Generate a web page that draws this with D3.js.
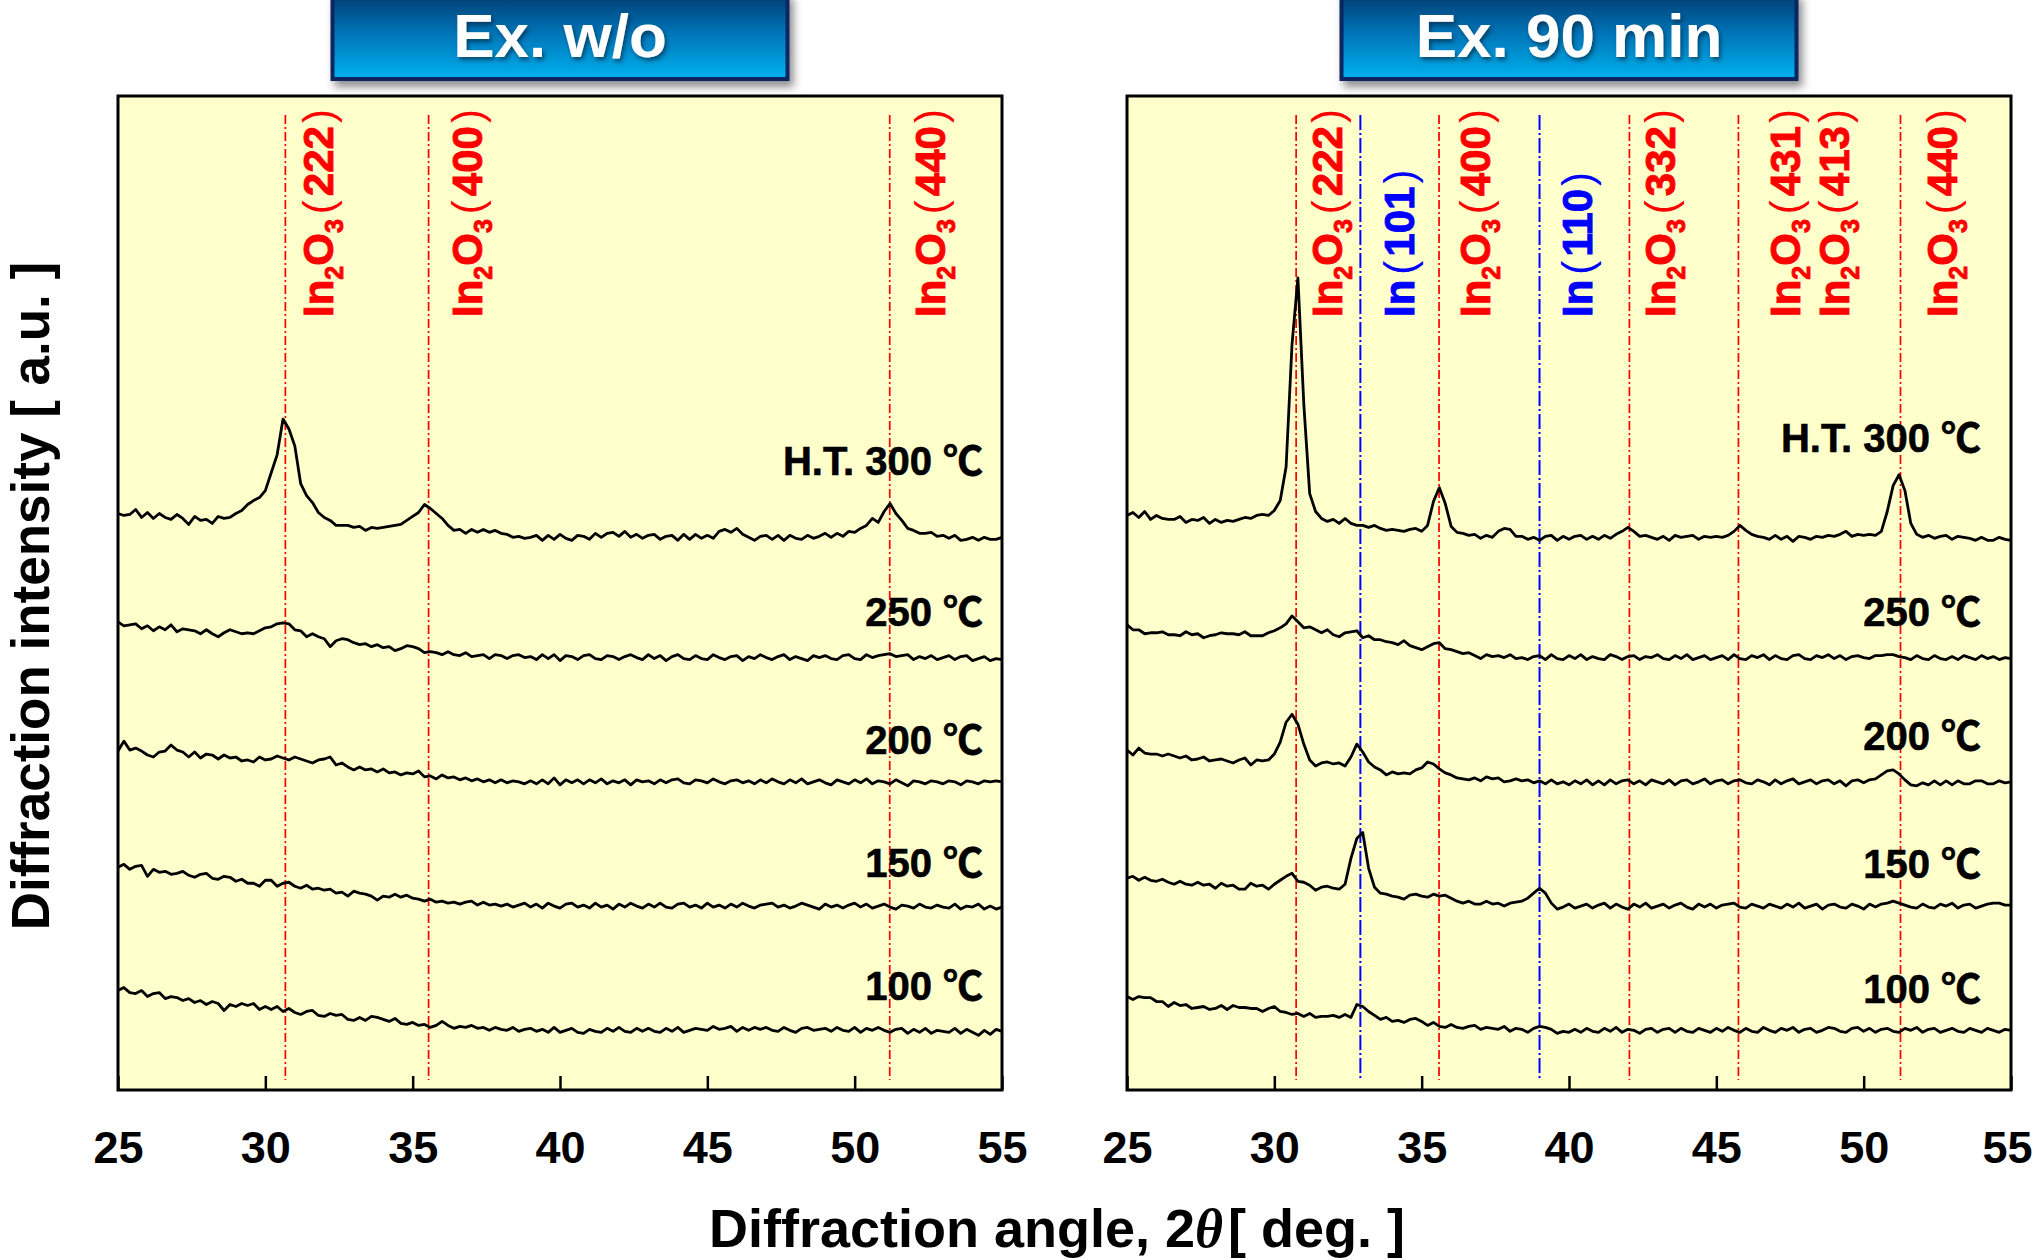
<!DOCTYPE html>
<html>
<head>
<meta charset="utf-8">
<script src="https://cdnjs.cloudflare.com/ajax/libs/d3/7.8.5/d3.min.js"></script>
<style>
  html, body { margin: 0; padding: 0; background: #ffffff; }
  svg { display: block; }
  text { font-family: "Liberation Sans", Arial, "Noto Sans CJK JP", sans-serif; font-weight: bold; }
</style>
</head>
<body>
<svg id="chart" width="2035" height="1260"></svg>
<script>
// ---------------------------------------------------------------------------
// XRD scans of the films after heat treatment (2θ = 25–55°, 0.2° step)
// ---------------------------------------------------------------------------
const angles = d3.range(151).map(i => +(25 + i * 0.2).toFixed(1));
const tickValues = [25, 30, 35, 40, 45, 50, 55];

// heat-treatment temperatures, bottom to top
const tempLabels = ["100 ℃", "150 ℃", "200 ℃", "250 ℃", "H.T. 300 ℃"];
// vertical stacking offset of each scan [a.u.]
const stackOffsets = [60, 185, 310, 435, 555];

// ---- Ex. w/o : intensity above stacking offset [a.u.] ----
const woScan100 = [
  40,43,38,37,40,34,37,38,32,34, 33,30,32,28,30,26,29,27,20,26,
  24,27,25,27,21,24,21,24,19,22, 18,16,19,20,15,14,17,15,16,11,
  10,13,10,14,13,11,9,12,7,6,    8,5,6,3,5,9,5,2,4,3,
  5,2,3,0,3,1,0,3,-1,1,          2,-1,1,-2,3,-2,0,2,-2,-3,
  1,-1,-2,2,-1,3,-1,-2,2,-1,     2,-1,-2,2,-1,3,-2,0,2,1,
  0,4,1,2,4,-1,3,0,3,1,          3,0,-1,3,0,-2,2,3,0,1,
  2,-1,3,0,-1,3,-2,2,0,3,        0,-2,1,2,-3,1,-2,2,-3,0,
  -1,-2,2,-3,1,-2,-5,0,-4,1,     -1
];
const woScan150 = [
  39,42,37,40,41,30,37,34,35,32, 33,35,31,29,32,33,28,27,30,29,
  25,27,23,23,20,26,26,20,23,24, 20,18,21,17,18,16,17,13,14,10,
  15,13,12,10,6,10,9,12,9,11,    8,7,5,7,4,5,3,4,2,4,
  5,1,4,1,2,0,2,-1,1,3,          -1,2,-2,3,0,-2,2,3,-1,1,
  -2,3,-1,1,-3,2,-1,3,0,-2,      2,-1,3,-1,-2,2,3,-1,1,-2,
  3,-1,1,-2,2,-1,3,0,-2,1,       2,3,-1,1,-2,0,3,1,-1,-3,
  2,-1,1,-2,1,3,-1,2,-2,0,       2,-1,-3,1,0,-2,2,-1,-2,1,
  -1,-2,2,-3,0,-1,2,-3,0,-3,     -1
];
const woScan200 = [
  31,41,32,34,31,27,25,30,31,37, 32,30,25,30,24,28,27,23,27,24,
  25,21,22,20,25,22,23,26,24,22, 25,23,21,19,22,23,25,17,19,15,
  12,15,12,13,10,13,9,10,7,9,    8,11,5,6,3,7,4,5,2,4,
  1,3,0,2,-1,2,-1,1,0,-2,        1,-2,2,-2,4,-3,2,-1,2,-2,
  2,-1,3,-2,1,-1,2,-3,2,0,       1,-2,2,-1,2,3,-1,-2,2,1,
  -1,3,0,-2,1,2,-1,1,-2,2,       -1,3,0,-2,2,-1,3,-2,0,2,
  -1,-3,2,0,-2,2,-1,3,-2,1,      0,-2,2,-1,-4,1,0,-2,1,0,
  -2,1,0,-3,1,0,-2,1,0,1,        0
];
const woScan250 = [
  36,32,33,34,29,32,27,31,28,33, 26,29,28,27,24,28,24,21,25,28,
  26,24,25,24,27,30,31,34,35,34, 28,27,21,24,21,19,11,17,19,18,
  15,13,14,11,13,10,11,7,9,12,   11,9,5,6,5,3,6,3,2,5,
  1,2,3,-1,3,2,-1,2,3,0,         1,-2,3,-1,3,-3,2,1,-2,2,
  3,-1,-2,2,1,-2,1,3,0,-2,       3,-1,2,-3,1,3,-1,-2,2,-1,
  -2,3,0,-2,1,2,-3,1,-1,3,       0,-2,1,3,-2,1,-1,-3,2,0,
  2,-1,-2,2,3,-1,-2,3,0,2,       3,4,1,2,3,-2,1,-1,2,-2,
  0,2,-2,1,2,-3,-1,1,-3,-1,      -2
];
const woScan300 = [
  25,23,24,29,21,26,20,25,21,19, 24,20,14,22,18,19,15,22,20,21,
  25,28,34,38,41,48,66,84,120,110, 93,55,43,36,26,21,18,13,13,13,
  11,12,8,11,10,11,12,13,14,18,  22,26,34,30,25,20,13,8,9,5,
  9,6,9,6,8,5,4,1,2,0,           1,3,-2,3,-1,4,0,-2,3,2,
  -1,5,1,5,6,2,7,1,4,0,          3,4,-1,2,3,-2,4,-1,4,0,
  3,0,7,9,6,10,4,1,-2,2,         3,-1,3,-2,3,0,-1,3,0,2,
  5,1,5,2,7,6,10,13,20,16,       27,35,25,18,10,8,5,5,6,2,
  3,0,3,-2,-1,1,-2,1,-1,-1,      1
];

// ---- Ex. 90 min : intensity above stacking offset [a.u.] ----
const exScan100 = [
  34,31,34,33,33,29,29,24,28,25, 26,22,23,24,21,22,25,21,25,23,
  23,22,22,19,22,24,19,18,16,17, 14,17,13,14,14,15,13,16,13,26,
  24,19,15,11,13,9,10,8,11,12,   9,5,8,4,3,6,3,2,4,5,
  1,3,2,1,4,-1,2,1,-2,2,         4,3,1,-3,-1,-2,1,-2,2,-1,
  -2,2,-1,3,-2,1,0,-3,1,2,       -2,1,2,-2,2,-1,-2,2,0,-2,
  2,-1,3,0,-2,2,-1,-2,3,0,       -2,2,0,3,-2,1,2,-2,0,3,
  2,-1,-2,2,3,-1,2,-2,1,2,       -1,-2,2,0,3,-2,1,2,-2,0,
  2,-1,-2,2,0,-2,2,0,-2,1,       0
];
const exScan150 = [
  28,30,26,29,26,25,27,24,22,25, 22,21,24,21,22,18,23,20,21,17,
  17,23,20,21,17,22,26,30,33,25, 24,21,16,19,20,18,17,22,48,68,
  74,38,19,13,12,10,9,7,11,12,   10,9,12,10,11,8,5,3,5,2,
  2,5,2,3,0,3,4,5,8,13,          18,13,3,-3,-1,2,-2,0,2,-2,
  1,3,-2,2,-1,-3,2,-1,3,-2,      0,2,-2,1,3,-1,-3,2,-1,2,
  -2,1,2,3,-1,-2,2,0,-2,2,       0,-2,2,-1,3,-2,0,2,-3,1,
  2,-1,-2,2,0,-3,2,-1,2,3,       5,3,1,-1,-2,2,-1,-2,2,0,
  3,-2,1,2,-2,0,2,3,3,1,         1
];
const exScan200 = [
  32,27,34,29,28,28,26,28,26,24, 26,22,23,25,21,22,23,21,19,22,
  24,17,22,21,22,28,40,60,68,58, 38,22,16,19,20,18,19,16,25,38,
  30,20,15,12,7,10,8,9,8,12,     14,20,18,13,9,7,4,3,2,4,
  1,5,3,4,0,1,3,1,2,-1,          1,-2,2,-2,0,-3,1,-2,2,-3,
  1,-3,2,-2,1,2,-2,1,-3,2,       0,-2,2,-3,1,2,-2,0,3,-2,
  1,2,-2,1,2,-1,-2,2,0,-3,       2,-2,1,3,-2,0,2,-2,1,2,
  -2,1,-4,1,2,-1,2,3,7,11,       12,8,2,-3,-4,-1,-3,1,-3,1,
  -3,1,-2,-2,1,1,-2,-2,1,-1,     0
];
const exScan250 = [
  33,28,28,24,25,25,26,23,23,22, 26,23,24,20,22,23,25,24,24,23,
  26,22,22,22,25,27,30,34,42,36, 30,31,28,25,28,23,21,25,26,27,
  20,22,18,18,16,15,13,17,12,10, 8,11,14,15,9,8,6,4,5,2,
  -1,3,1,2,0,3,-1,0,-2,1,        2,-2,3,-1,-2,2,-1,3,-2,1,
  -1,-2,3,1,-2,1,2,-2,1,0,       3,-1,-2,2,-1,3,-2,0,2,-2,
  0,2,-2,3,-1,-2,2,0,3,-2,       2,-1,-2,2,3,-1,-2,2,0,3,
  -1,2,-2,1,2,0,-1,2,2,3,        3,1,0,-2,2,-1,-2,2,-1,-2,
  1,-2,2,0,-2,2,-1,1,-2,0,       -1
];
const exScan300 = [
  23,26,21,27,19,23,20,19,19,22, 16,19,18,21,15,19,16,18,17,19,
  21,20,23,24,23,28,38,72,195,262, 135,45,27,20,17,19,15,20,15,13,
  13,11,13,10,8,9,8,7,9,10,      7,13,37,51,35,12,6,5,3,4,
  0,3,1,7,10,9,2,2,-1,1,         -2,2,3,-2,2,-1,2,3,-1,2,
  -1,3,0,4,7,11,7,2,3,1,         -1,2,-2,3,1,2,3,-1,2,1,
  2,1,3,7,13,8,4,2,1,-1,         3,-1,2,-3,2,1,-1,2,1,3,
  2,4,7,2,4,3,4,3,7,27,          53,64,48,15,4,1,3,0,2,3,
  -1,2,1,0,-2,1,-2,-2,1,-1,      -2
];

// ---- reflection positions (2θ, deg) ----
const woRefAngles = [30.68, 35.54, 51.19];
const woRefPhase  = ["In2O3", "In2O3", "In2O3"];
const woRefHkl    = ["222", "400", "440"];

const exRefAngles = [30.74, 32.92, 35.59, 39.0, 42.05, 45.75, 45.75, 51.25];
const exRefPhase  = ["In2O3", "In", "In2O3", "In", "In2O3", "In2O3", "In2O3", "In2O3"];
const exRefHkl    = ["222", "101", "400", "110", "332", "431", "413", "440"];

// ---------------------------------------------------------------------------
// layout
// ---------------------------------------------------------------------------
const plotTop = 96, plotBottom = 1090;
const refTop = 115, refBottom = 1080;
const labelFoot = 317;

const woScans = [woScan100, woScan150, woScan200, woScan250, woScan300];
const exScans = [exScan100, exScan150, exScan200, exScan250, exScan300];
[...woScans, ...exScans].forEach((s, k) => {
  if (s.length !== angles.length) throw new Error("scan " + k + " has " + s.length + " points");
});

const panels = [
  { title: "Ex. w/o", x0: 118, x1: 1002, scans: woScans,
    refAngles: woRefAngles, refPhase: woRefPhase, refHkl: woRefHkl,
    labelGap: [48, 53, 55], tempLift: [31, 29, 28, 32, 64], tempInset: 19 },
  { title: "Ex. 90 min", x0: 1127, x1: 2011, scans: exScans,
    refAngles: exRefAngles, refPhase: exRefPhase, refHkl: exRefHkl,
    labelGap: [46, 54, 51, 52, 46, 62, 111, 56], tempLift: [28, 28, 32, 32, 87], tempInset: 30 }
];

const phaseColor = { "In2O3": "#ff0000", "In": "#0000ff" };
const phaseDash  = { "In2O3": "9,3,2,3", "In": "15,3,2,3" };
const phaseWidth = { "In2O3": 1.7, "In": 2.0 };

const svg = d3.select("#chart");
const defs = svg.append("defs");

const grad = defs.append("linearGradient").attr("id", "boxGrad")
  .attr("x1", 0).attr("y1", 0).attr("x2", 0).attr("y2", 1);
grad.append("stop").attr("offset", "0%").attr("stop-color", "#003c70");
grad.append("stop").attr("offset", "45%").attr("stop-color", "#0073b6");
grad.append("stop").attr("offset", "100%").attr("stop-color", "#00b2ef");

const boxShadow = defs.append("filter").attr("id", "boxShadow")
  .attr("x", "-10%").attr("y", "-30%").attr("width", "130%").attr("height", "170%");
boxShadow.append("feDropShadow").attr("dx", 4).attr("dy", 6).attr("stdDeviation", 4)
  .attr("flood-color", "#000").attr("flood-opacity", 0.45);

const textShadow = defs.append("filter").attr("id", "textShadow")
  .attr("x", "-10%").attr("y", "-30%").attr("width", "130%").attr("height", "170%");
textShadow.append("feDropShadow").attr("dx", 2).attr("dy", 3).attr("stdDeviation", 2)
  .attr("flood-color", "#00203f").attr("flood-opacity", 0.65);

const y = d3.scaleLinear().domain([0, 1000]).range([plotBottom, plotTop]);

panels.forEach((p, pi) => {
  const x = d3.scaleLinear().domain([25, 55]).range([p.x0, p.x1]);
  const g = svg.append("g");

  // plot background
  g.append("rect").attr("x", p.x0).attr("y", plotTop)
    .attr("width", p.x1 - p.x0).attr("height", plotBottom - plotTop)
    .attr("fill", "#ffffcc");

  // reflection marker lines
  const uniq = [];
  p.refAngles.forEach((a, i) => {
    if (!uniq.some(u => u.a === a)) uniq.push({ a, phase: p.refPhase[i] });
  });
  g.selectAll("line.ref").data(uniq).join("line").attr("class", "ref")
    .attr("x1", d => x(d.a)).attr("x2", d => x(d.a))
    .attr("y1", refTop).attr("y2", refBottom)
    .attr("stroke", d => phaseColor[d.phase])
    .attr("stroke-width", d => phaseWidth[d.phase])
    .attr("stroke-dasharray", d => phaseDash[d.phase]);

  // reflection labels (rotated)
  p.refAngles.forEach((a, i) => {
    const phase = p.refPhase[i];
    const col = phaseColor[phase];
    const t = g.append("text")
      .attr("transform", `translate(${x(a) + p.labelGap[i]},${labelFoot}) rotate(-90)`)
      .attr("fill", col).attr("font-size", 42);
    const heavy = s => s.attr("stroke", col).attr("stroke-width", 0.9);
    if (phase === "In2O3") {
      heavy(t.append("tspan").text("In"));
      heavy(t.append("tspan").attr("dy", 10).attr("font-size", 25).text("2"));
      heavy(t.append("tspan").attr("dy", -10).text("O"));
      heavy(t.append("tspan").attr("dy", 10).attr("font-size", 25).text("3"));
      t.append("tspan").attr("dy", -10).attr("dx", 5).attr("font-weight", "normal").text("(");
    } else {
      heavy(t.append("tspan").text("In"));
      t.append("tspan").attr("dx", 5).attr("font-weight", "normal").text("(");
    }
    heavy(t.append("tspan").attr("dx", 4).text(p.refHkl[i]));
    t.append("tspan").attr("dx", 3).attr("font-weight", "normal").text(")");
  });

  // diffraction patterns
  const line = d3.line()
    .x((d, i) => x(angles[i]))
    .y(d => y(d));
  p.scans.forEach((scan, k) => {
    g.append("path")
      .datum(scan.map(v => v + stackOffsets[k]))
      .attr("d", line)
      .attr("fill", "none").attr("stroke", "#000")
      .attr("stroke-width", 2.8).attr("stroke-linejoin", "round");
  });

  // temperature labels
  tempLabels.forEach((lab, k) => {
    g.append("text")
      .attr("x", p.x1 - p.tempInset)
      .attr("y", y(stackOffsets[k] + p.tempLift[k]))
      .attr("text-anchor", "end").attr("font-size", 40).attr("fill", "#000")
      .attr("stroke", "#000").attr("stroke-width", 0.6)
      .text(lab);
  });

  // frame
  g.append("rect").attr("x", p.x0).attr("y", plotTop)
    .attr("width", p.x1 - p.x0).attr("height", plotBottom - plotTop)
    .attr("fill", "none").attr("stroke", "#000").attr("stroke-width", 3);

  // x axis with inward ticks
  const ax = g.append("g").attr("transform", `translate(0,${plotBottom})`)
    .call(d3.axisBottom(x).tickValues(tickValues).tickSize(-14).tickFormat(d3.format("d")));
  ax.select(".domain").remove();
  ax.selectAll(".tick line").attr("stroke", "#000").attr("stroke-width", 2.5);
  ax.selectAll(".tick text")
    .attr("y", 73).attr("dy", null)
    .attr("font-size", 45).attr("font-weight", "bold")
    .attr("font-family", "\"Liberation Sans\", Arial, sans-serif")
    .attr("fill", "#000");
  if (pi === panels.length - 1) {
    // keep the last label inside the page
    ax.selectAll(".tick text").filter(d => d === 55).attr("x", -4);
  }

  // title box
  const cx = (p.x0 + p.x1) / 2;
  svg.append("rect")
    .attr("x", cx - 227.5).attr("y", -6).attr("width", 455).attr("height", 85)
    .attr("fill", "url(#boxGrad)").attr("stroke", "#0b2660").attr("stroke-width", 4)
    .attr("filter", "url(#boxShadow)");
  svg.append("text")
    .attr("x", cx).attr("y", 57).attr("text-anchor", "middle")
    .attr("font-size", 62).attr("fill", "#ffffff")
    .attr("filter", "url(#textShadow)")
    .text(p.title);
});

// axis titles
const xt = svg.append("text").attr("x", 1057).attr("y", 1247)
  .attr("text-anchor", "middle").attr("font-size", 54).attr("fill", "#000");
xt.append("tspan").text("Diffraction angle, 2");
xt.append("tspan").attr("font-style", "italic").attr("font-family", "\"Liberation Serif\", serif").text("θ");
xt.append("tspan").attr("dx", 5).text("[ deg. ]");

svg.append("text")
  .attr("transform", "translate(49,596) rotate(-90)")
  .attr("text-anchor", "middle").attr("font-size", 53).attr("fill", "#000")
  .text("Diffraction intensity [ a.u. ]");
</script>
</body>
</html>
